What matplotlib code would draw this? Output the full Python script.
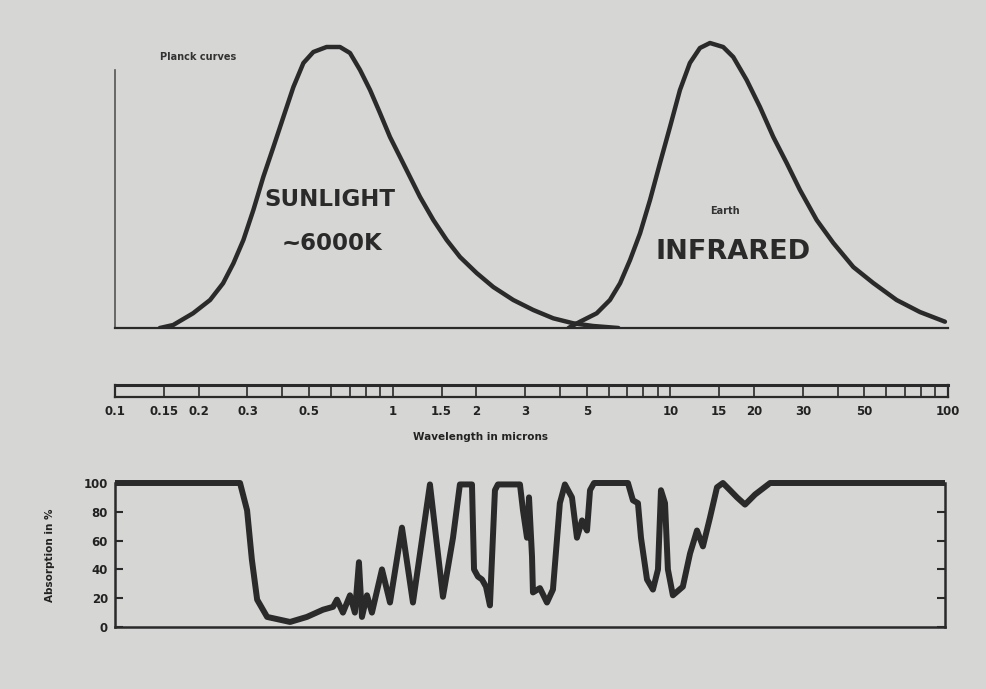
import matplotlib
matplotlib.use('Agg')
import matplotlib.pyplot as plt
from matplotlib.ticker import NullLocator

# ---------------- data ----------------
sun_wl = [0.145, 0.162, 0.191, 0.220, 0.245, 0.267, 0.290, 0.315, 0.342, 0.372,
          0.404, 0.439, 0.477, 0.518, 0.578, 0.646, 0.702, 0.763, 0.829, 0.900,
          0.978, 1.063, 1.155, 1.255, 1.401, 1.565, 1.748, 2.006, 2.303, 2.719,
          3.209, 3.787, 4.469, 5.277, 6.5]
sun_int = [0, 3, 14.7, 28, 44.7, 64.7, 88, 118, 151, 181,
           211, 241, 265, 276, 281, 281, 275, 258, 238, 215,
           191, 171, 151, 131, 108, 88, 71, 55, 41, 28,
           18, 9.7, 4.7, 2, 0]

earth_wl = [4.3, 4.73, 5.43, 6.06, 6.59, 7.16, 7.78, 8.45, 9.18, 9.97,
            10.83, 11.76, 12.78, 13.89, 15.50, 16.85, 18.83, 21.03, 23.49, 26.24,
            29.30, 33.65, 38.64, 45.6, 53.8, 65.3, 79.2, 97.5]
earth_int = [0, 6.3, 14.7, 28, 44.7, 68, 94.7, 128, 165, 201,
             238, 265, 280, 285, 281, 271, 248, 221, 191, 165,
             138, 108, 85, 61, 45, 28, 16, 6.3]

abs_wl = [0.1, 0.282, 0.299, 0.311, 0.325, 0.353, 0.427, 0.491, 0.561, 0.610,
          0.630, 0.662, 0.702, 0.731, 0.756, 0.775, 0.808, 0.842, 0.915, 0.978,
          1.080, 1.183, 1.362, 1.517, 1.649, 1.746, 1.930, 1.963, 2.028, 2.097,
          2.168, 2.240, 2.335, 2.393, 2.873, 2.946, 3.046, 3.097, 3.175, 3.200,
          3.390, 3.594, 3.777, 4.000, 4.170, 4.422, 4.609, 4.806, 5.010, 5.137,
          5.309, 7.035, 7.331, 7.643, 7.838, 8.238, 8.654, 9.024, 9.250, 9.566,
          9.797, 10.21, 11.09, 11.77, 12.47, 13.10, 13.89, 14.72, 15.46, 16.40,
          17.38, 18.57, 20.18, 22.86, 97.5]
abs_pct = [100, 100, 81, 47, 19, 7, 3.5, 7, 12, 14,
           19, 10, 22, 10, 45, 7, 22, 10, 40, 17,
           69, 17, 99, 21, 62, 99, 99, 40, 35, 33,
           28, 15, 95, 99, 99, 81, 62, 90, 49, 24,
           27, 17, 26, 86, 99, 90, 62, 74, 67, 95,
           100, 100, 88, 86, 62, 33, 26, 40, 95, 86,
           40, 22, 28, 51, 67, 56, 76, 97, 100, 95,
           90, 85, 92, 100, 100]

ruler_major = [0.1, 0.15, 0.2, 0.3, 0.5, 1, 1.5, 2, 3, 5, 10, 15, 20, 30, 50, 100]
ruler_labels = ['0.1', '0.15', '0.2', '0.3', '0.5', '1', '1.5', '2', '3', '5',
                '10', '15', '20', '30', '50', '100']
ruler_minor = [0.4, 0.6, 0.7, 0.8, 0.9, 4, 6, 7, 8, 9, 40, 60, 70, 80, 90]

abs_ticks = [0, 20, 40, 60, 80, 100]

# ---------------- figure ----------------
W, H = 987, 689
bg = '#d6d6d4'
ink = '#2a2a2a'
fig = plt.figure(figsize=(W / 100, H / 100), dpi=100, facecolor=bg)

def fx(px):
    return px / W

def fy(py):
    return 1 - py / H

x_left = fx(115)
x_width = fx(948) - fx(115)

# Top panel: Planck curves
ax1 = fig.add_axes([x_left, fy(328), x_width, fy(28) - fy(328)])
ax1.set_facecolor('none')
ax1.set_xscale('log')
ax1.set_xlim(0.1, 100)
ax1.set_ylim(0, 300)
ax1.plot(sun_wl, sun_int, color=ink, lw=3.2, solid_joinstyle='round', solid_capstyle='round')
ax1.plot(earth_wl, earth_int, color=ink, lw=3.2, solid_joinstyle='round', solid_capstyle='round')
for s in ['top', 'right']:
    ax1.spines[s].set_visible(False)
ax1.spines['left'].set_bounds(0, 258)
ax1.spines['left'].set_color('#555555')
ax1.spines['left'].set_linewidth(1.2)
ax1.spines['bottom'].set_color(ink)
ax1.spines['bottom'].set_linewidth(1.6)
ax1.xaxis.set_major_locator(NullLocator())
ax1.xaxis.set_minor_locator(NullLocator())
ax1.set_yticks([])

fig.text(fx(160), fy(57), 'Planck curves', fontsize=7, fontweight='bold',
         color='#333333', ha='left', va='center')
hand = dict(family=['DejaVu Sans'], fontweight='bold', color=ink)
fig.text(fx(330), fy(200), 'SUNLIGHT', fontsize=16.5, ha='center', va='center', **hand)
fig.text(fx(332), fy(244), '~6000K', fontsize=16.5, ha='center', va='center', **hand)
fig.text(fx(733), fy(252), 'INFRARED', fontsize=19.5, ha='center', va='center', **hand)
fig.text(fx(725), fy(211), 'Earth', fontsize=7, fontweight='bold', color='#333333',
         ha='center', va='center')

# Ruler scale
axr = fig.add_axes([x_left, fy(397), x_width, fy(385) - fy(397)])
axr.set_facecolor('none')
axr.set_xscale('log')
axr.set_xlim(0.1, 100)
axr.set_ylim(0, 1)
axr.set_yticks([])
axr.set_xticks(ruler_major)
axr.set_xticklabels(ruler_labels)
axr.set_xticks(ruler_minor, minor=True)
axr.tick_params(axis='x', which='both', direction='in', length=8.6, width=1.2,
                color=ink, labelsize=8.5, pad=6, labelcolor='#222222')
for lab in axr.get_xticklabels():
    lab.set_fontweight('bold')
for s in axr.spines.values():
    s.set_linewidth(1.6)
    s.set_color(ink)
axr.spines['top'].set_linewidth(2.2)
fig.text(fx(481), fy(437), 'Wavelength in microns', fontsize=7.5, fontweight='bold',
         color='#222222', ha='center', va='center')

# Bottom panel: absorption
ax2 = fig.add_axes([x_left, fy(627), fx(945) - fx(115), fy(483) - fy(627)])
ax2.set_facecolor('none')
ax2.set_xscale('log')
ax2.set_xlim(0.1, 97.5)
ax2.set_ylim(0, 100)
ax2.plot(abs_wl, abs_pct, color=ink, lw=4.3, solid_joinstyle='round',
         solid_capstyle='butt', clip_on=False)
ax2.spines['top'].set_visible(False)
for s in ['left', 'right', 'bottom']:
    ax2.spines[s].set_color(ink)
    ax2.spines[s].set_linewidth(1.8)
ax2.xaxis.set_major_locator(NullLocator())
ax2.xaxis.set_minor_locator(NullLocator())
ax2.set_yticks(abs_ticks)
ax2.set_yticklabels([str(v) for v in abs_ticks])
ax2.tick_params(axis='y', which='both', direction='in', length=6, width=1.5,
                color=ink, right=True, labelright=False, labelsize=8.5, pad=5,
                labelcolor='#222222')
for lab in ax2.get_yticklabels():
    lab.set_fontweight('bold')
fig.text(fx(50), fy(555), 'Absorption in %', fontsize=7.5, fontweight='bold',
         color='#222222', rotation=90, ha='center', va='center')

fig.savefig('out.png', dpi=100, facecolor=bg)
